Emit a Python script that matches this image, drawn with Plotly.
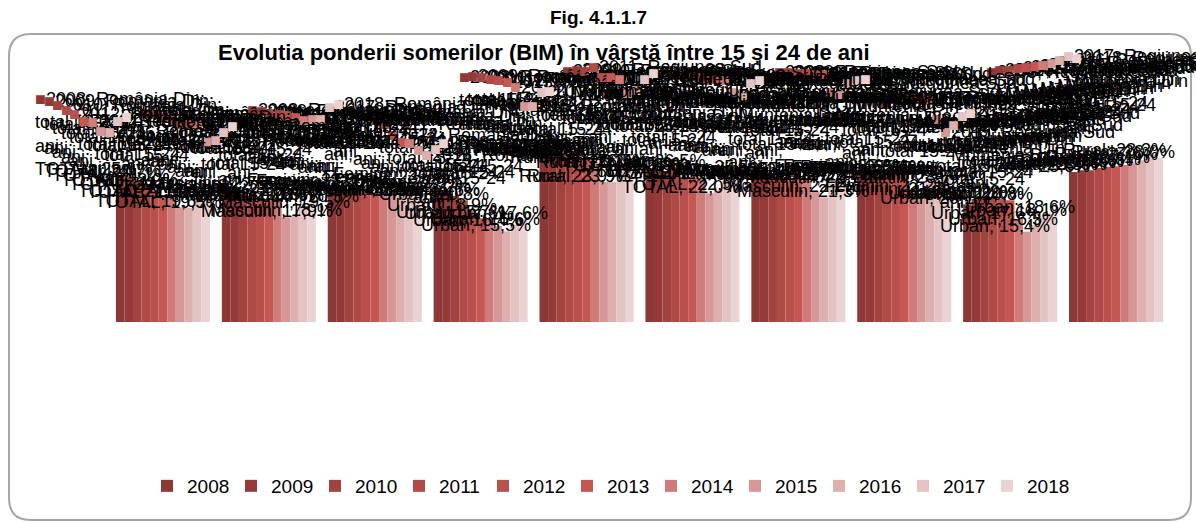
import plotly.graph_objects as go

# Categories: national totals and the Sud-Muntenia region
regions = ["România", "România", "România", "România", "România",
           "Regiunea Sud", "Regiunea Sud", "Regiunea Sud", "Regiunea Sud", "Regiunea Sud"]
categories = ["TOTAL", "Masculin", "Feminin", "Urban", "Rural",
              "TOTAL", "Masculin", "Feminin", "Urban", "Rural"]
years = ["2008", "2009", "2010", "2011", "2012", "2013",
         "2014", "2015", "2016", "2017", "2018"]

# Share (%) per year, one list per category
v_ro_total = [25.1, 24.7, 24.1, 23.2, 22.5, 21.3, 21.2, 19.6, 19.5, 21.3, 22.0]
v_ro_masc = [22.7, 22.5, 22.0, 21.5, 20.8, 20.8, 20.6, 17.9, 18.1, 19.5, 20.5]
v_ro_fem = [23.2, 23.0, 22.7, 22.5, 22.4, 22.0, 21.5, 21.7, 21.7, 23.7, 24.2]
v_ro_urban = [22.9, 22.2, 21.5, 20.8, 18.9, 17.7, 17.6, 16.4, 15.5, 16.6, 17.6]
v_ro_rural = [28.8, 29.0, 28.8, 28.5, 28.3, 28.0, 27.1, 23.9, 23.9, 26.3, 26.5]
v_sm_total = [25.8, 25.9, 25.8, 26.5, 24.7, 24.7, 24.4, 22.0, 22.5, 24.4, 25.5]
v_sm_masc = [25.1, 25.1, 24.9, 24.7, 24.2, 24.4, 24.2, 22.2, 21.3, 23.7, 24.2]
v_sm_fem = [25.6, 25.6, 25.4, 25.4, 25.3, 25.3, 22.2, 21.7, 23.7, 24.2, 24.4]
v_sm_urban = [20.1, 21.0, 21.2, 21.2, 21.0, 20.8, 17.6, 15.4, 16.5, 18.1, 18.6]
v_sm_rural = [25.6, 25.9, 25.9, 26.3, 26.5, 26.6, 26.8, 27.1, 27.6, 28.3, 28.0]

by_category = [v_ro_total, v_ro_masc, v_ro_fem, v_ro_urban, v_ro_rural,
               v_sm_total, v_sm_masc, v_sm_fem, v_sm_urban, v_sm_rural]

colors = ["#8C3837", "#953A39", "#A1433F", "#B04A47", "#BA504D", "#C55753",
          "#CF7B79", "#D69897", "#DDB0AF", "#E4C4C3", "#EBD3D3"]

W, H = 1196, 522
L, R, T, B = 110, 27, 52, 200
PW, PH = W - L - R, H - T - B
BARGAP = 0.112
LABEL_FONT = dict(family="Liberation Sans, Arial, sans-serif", size=18, color="#000000")


def px(xp):
    return (xp - L) / PW


def py(yp):
    return (H - B - yp) / PH


def pct(v):
    return f"{v:.1f}".replace(".", ",")


def label(i, k, v):
    key = f'<span style="color:{colors[k]}">■</span>'
    if regions[i] == "România":
        lines = [f"{key}{years[k]}; România Din:", "total 15-24", "ani;",
                 f"{categories[i]}; {pct(v)}%"]
    else:
        lines = [f"{key}{years[k]}; Regiunea Sud", "- Muntenia Din", "total 15-24",
                 "ani;", f"{categories[i]}; {pct(v)}%"]
    return "<br>".join(lines)


fig = go.Figure()
xs = list(range(len(categories)))
nser = len(years)
slot = (1 - BARGAP) / nser
annotations = [
    dict(text="<b>Fig. 4.1.1.7</b>", xref="paper", yref="paper", x=px(598), y=py(17),
         xanchor="center", yanchor="middle", showarrow=False,
         font=dict(family="Liberation Sans, Arial, sans-serif", size=19, color="#000000")),
    dict(text="<b>Evolutia ponderii somerilor (BIM) în vârstă între 15 și 24 de ani</b>",
         xref="paper", yref="paper", x=px(216), y=py(53),
         xanchor="left", yanchor="middle", showarrow=False,
         font=dict(family="Liberation Sans, Arial, sans-serif", size=22, color="#000000")),
]
for k, yr in enumerate(years):
    vals = [by_category[i][k] for i in xs]
    fig.add_trace(go.Bar(
        x=xs, y=vals, name=yr,
        marker=dict(color=colors[k], line=dict(width=0)),
        hoverinfo="skip",
    ))
    # data labels sit above each bar of the series
    for i in xs:
        annotations.append(dict(
            text=label(i, k, vals[i]), xref="x", yref="y",
            x=i + (k - (nser - 1) / 2) * slot, y=vals[i],
            xanchor="center", yanchor="bottom", yshift=-6, align="left", showarrow=False,
            font=LABEL_FONT,
        ))

# rounded frame around the chart
x0, x1, y0, y1, r = 9, 1191, 34, 520, 22
frame = (f"M {px(x0 + r)},{py(y0)} L {px(x1 - r)},{py(y0)} "
         f"Q {px(x1)},{py(y0)} {px(x1)},{py(y0 + r)} "
         f"L {px(x1)},{py(y1 - r)} Q {px(x1)},{py(y1)} {px(x1 - r)},{py(y1)} "
         f"L {px(x0 + r)},{py(y1)} Q {px(x0)},{py(y1)} {px(x0)},{py(y1 - r)} "
         f"L {px(x0)},{py(y0 + r)} Q {px(x0)},{py(y0)} {px(x0 + r)},{py(y0)} Z")

fig.update_layout(
    width=W, height=H,
    margin=dict(l=L, r=R, t=T, b=B, autoexpand=False),
    paper_bgcolor="white", plot_bgcolor="white",
    barmode="group", bargap=BARGAP, bargroupgap=0,
    showlegend=True,
    legend=dict(orientation="h", x=px(609), xanchor="center", y=py(486), yanchor="middle",
                font=dict(family="Liberation Sans Narrow, Arial Narrow, Liberation Sans, sans-serif",
                          size=19, color="#000000"),
                itemwidth=30, entrywidth=39, entrywidthmode="pixels", itemclick=False),
    xaxis=dict(range=[-0.5, 9.5], showticklabels=False, showgrid=False, zeroline=False,
               showline=False, ticks=""),
    yaxis=dict(range=[0, 46.1], showticklabels=False, showgrid=False, zeroline=False,
               showline=False, ticks=""),
    shapes=[dict(type="path", xref="paper", yref="paper", path=frame,
                 line=dict(color="#A6A6A6", width=2), layer="below")],
    annotations=annotations,
)

fig.write_html("out.html")
